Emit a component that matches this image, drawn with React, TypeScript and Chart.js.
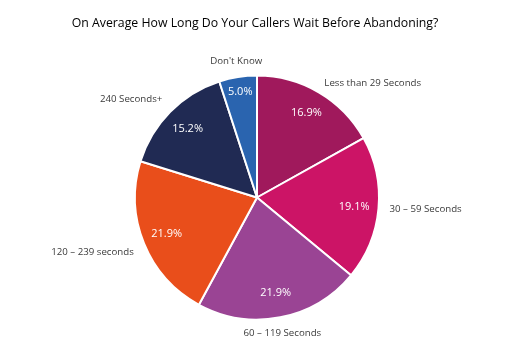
import React, { useEffect, useRef } from "react";
import { Chart, registerables } from "chart.js";

Chart.register(...registerables);

const TITLE = "On Average How Long Do Your Callers Wait Before Abandoning?";
const categories = [
  "Less than 29 Seconds",
  "30 – 59 Seconds",
  "60 – 119 Seconds",
  "120 – 239 seconds",
  "240 Seconds+",
  "Don't Know",
];
const values = [16.9, 19.1, 21.9, 21.9, 15.2, 5.0];
const colors = ["#A0195C", "#CC1466", "#9A4494", "#E94E1B", "#202A53", "#2A64AF"];

const FONT = "'Open Sans', 'DejaVu Sans', sans-serif";

const labelPlugin = {
  id: "pieLabels",
  afterDraw(chart: any) {
    const ctx = chart.ctx;
    const meta = chart.getDatasetMeta(0);
    ctx.save();
    // title
    ctx.fillStyle = "#000000";
    ctx.font = `12.3px ${FONT}`;
    ctx.textAlign = "center";
    ctx.textBaseline = "middle";
    ctx.fillText(TITLE, chart.width / 2, 23);

    meta.data.forEach((arc: any, i: number) => {
      const p = arc.getProps(["x", "y", "startAngle", "endAngle", "outerRadius"], true);
      const mid = (p.startAngle + p.endAngle) / 2;
      const c = Math.cos(mid);
      const s = Math.sin(mid);
      // percent label inside
      const ri = p.outerRadius * (values[i] < 8 ? 0.88 : 0.8);
      ctx.fillStyle = "#ffffff";
      ctx.font = `11px ${FONT}`;
      ctx.textAlign = "center";
      ctx.textBaseline = "middle";
      ctx.fillText(values[i].toFixed(1) + "%", p.x + ri * c, p.y + ri * s);
      // category label outside
      const ro = p.outerRadius + 11;
      const ax = p.x + ro * c;
      const ay = p.y + ro * s;
      ctx.fillStyle = "#3a3a3a";
      ctx.font = `9.7px ${FONT}`;
      ctx.textAlign = c > 0.3 ? "left" : c < -0.3 ? "right" : "center";
      let baseline = "middle";
      if (Math.abs(c) <= 0.3) baseline = s > 0 ? "top" : "bottom";
      else if (c < 0 && Math.abs(s) > 0.3) baseline = s > 0 ? "top" : "bottom";
      ctx.textBaseline = baseline;
      ctx.fillText(categories[i], ax, ay);
    });
    ctx.restore();
  },
};

export default function App() {
  const ref = useRef<HTMLCanvasElement>(null);
  useEffect(() => {
    document.body.style.margin = "0";
    const chart = new Chart(ref.current!, {
      type: "pie",
      data: {
        labels: categories,
        datasets: [
          {
            data: values,
            backgroundColor: colors,
            borderColor: "#ffffff",
            borderWidth: 2,
          },
        ],
      },
      options: {
        animation: false,
        responsive: false,
        layout: { padding: { left: 134, right: 130, top: 74, bottom: 41 } },
        plugins: {
          legend: { display: false },
          title: { display: false },
          tooltip: { enabled: false },
        },
      },
      plugins: [labelPlugin],
    });
    return () => chart.destroy();
  }, []);
  return (
    <div style={{ width: 510, height: 362, background: "#fff" }}>
      <canvas ref={ref} width={510} height={362} />
    </div>
  );
}
